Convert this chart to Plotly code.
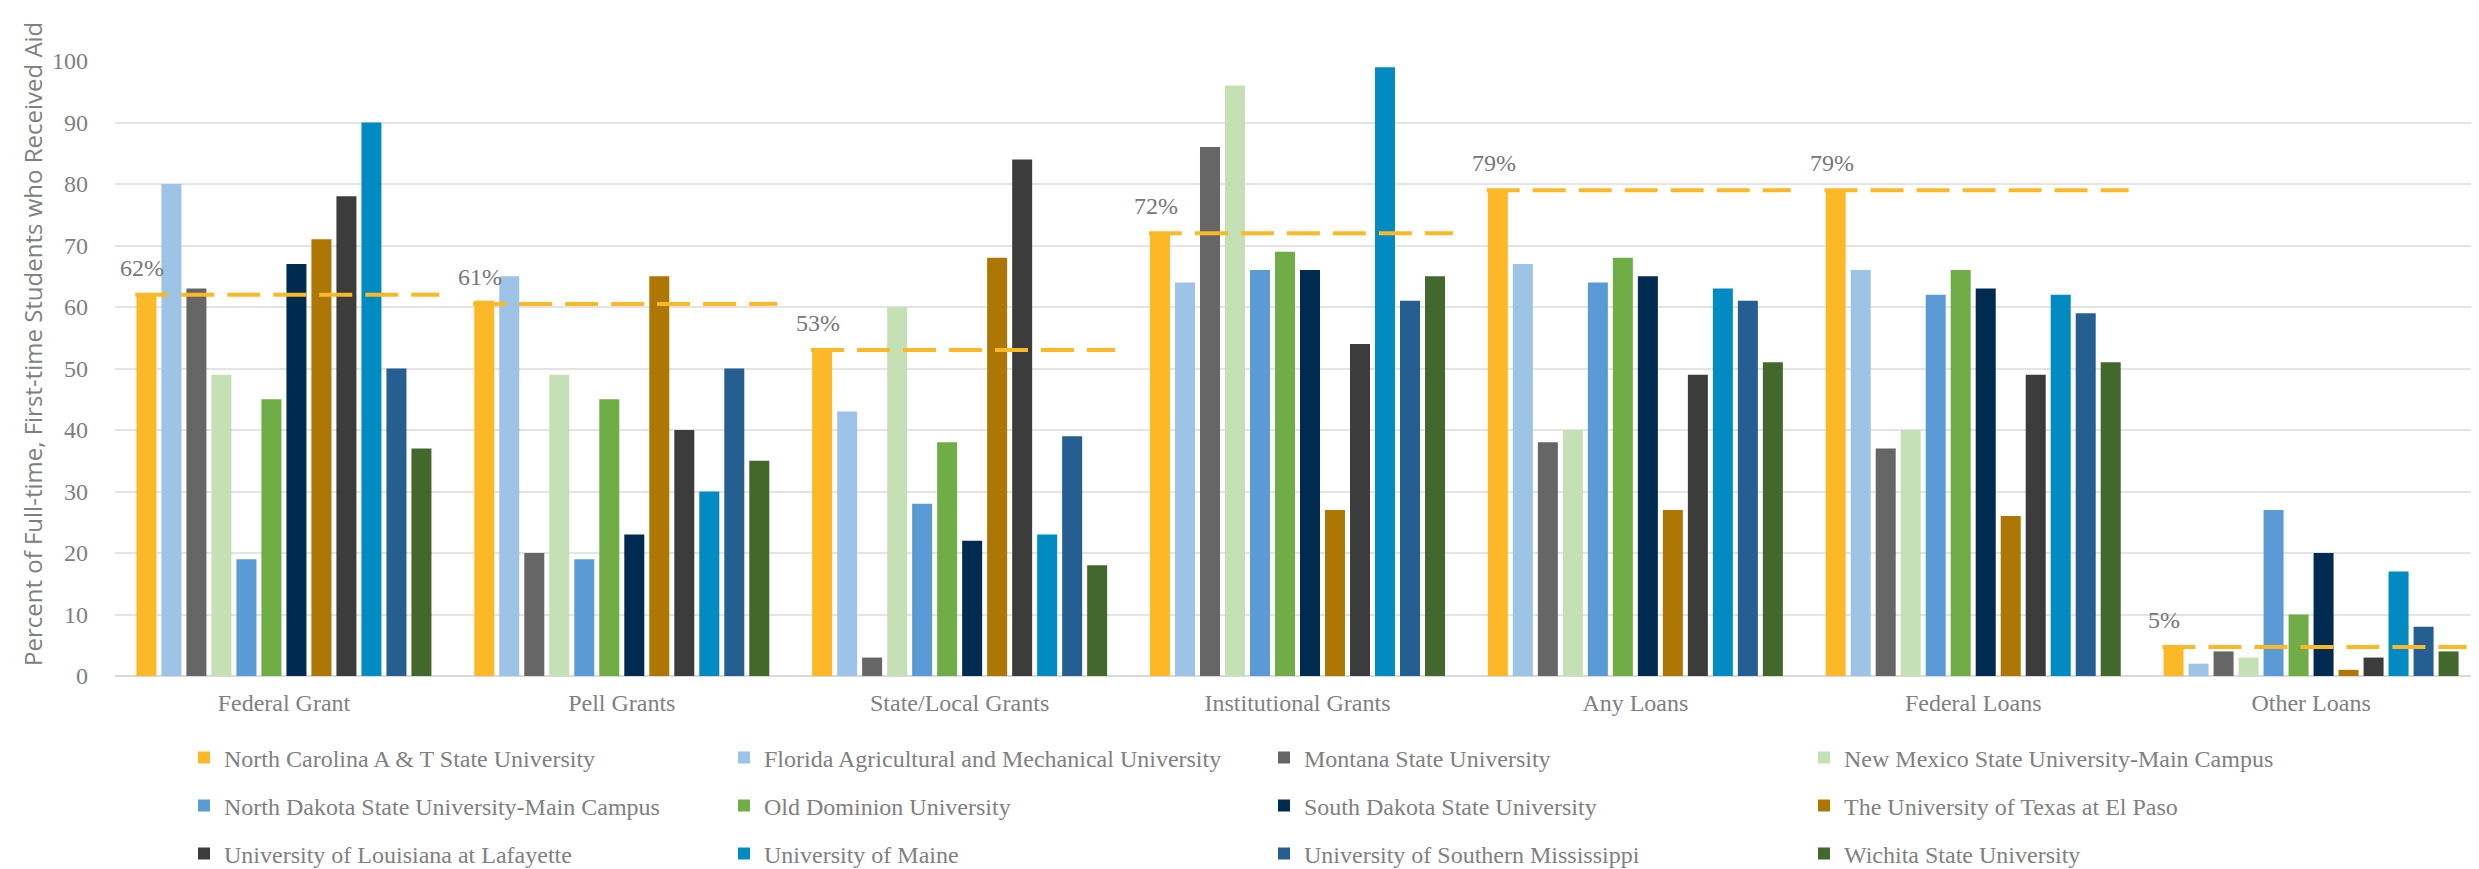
import plotly.graph_objects as go

categories = ["Federal Grant", "Pell Grants", "State/Local Grants", "Institutional Grants",
              "Any Loans", "Federal Loans", "Other Loans"]

universities = [
    "North Carolina A & T State University",
    "Florida Agricultural and Mechanical University",
    "Montana State University",
    "New Mexico State University-Main Campus",
    "North Dakota State University-Main Campus",
    "Old Dominion University",
    "South Dakota State University",
    "The University of Texas at El Paso",
    "University of Louisiana at Lafayette",
    "University of Maine",
    "University of Southern Mississippi",
    "Wichita State University",
]

nc_at = [62, 61, 53, 72, 79, 79, 5]
florida_am = [80, 65, 43, 64, 67, 66, 2]
montana = [63, 20, 3, 86, 38, 37, 4]
new_mexico = [49, 49, 60, 96, 40, 40, 3]
north_dakota = [19, 19, 28, 66, 64, 62, 27]
old_dominion = [45, 45, 38, 69, 68, 66, 10]
south_dakota = [67, 23, 22, 66, 65, 63, 20]
utep = [71, 65, 68, 27, 27, 26, 1]
louisiana_laf = [78, 40, 84, 54, 49, 49, 3]
maine = [90, 30, 23, 99, 63, 62, 17]
southern_miss = [50, 50, 39, 61, 61, 59, 8]
wichita = [37, 35, 18, 65, 51, 51, 4]

series_values = [nc_at, florida_am, montana, new_mexico, north_dakota, old_dominion,
                 south_dakota, utep, louisiana_laf, maine, southern_miss, wichita]

colors = ["#FDB827", "#9DC3E6", "#666666", "#C5E0B4", "#5B9BD5", "#70AD47",
          "#002B51", "#AE7602", "#3C3C3C", "#008BC3", "#255E91", "#43682B"]

# reference (dashed) line for North Carolina A & T
reference_values = [62, 60.5, 53, 72, 79, 79, 4.7]
reference_labels = ["62%", "61%", "53%", "72%", "79%", "79%", "5%"]

y_ticks = [0, 10, 20, 30, 40, 50, 60, 70, 80, 90, 100]

SERIF = "Liberation Serif"
GRAY = "#808080"

fig = go.Figure()

legend_names = ["legend", "legend2", "legend3"]
for i, (name, vals, col) in enumerate(zip(universities, series_values, colors)):
    fig.add_trace(go.Bar(
        x=categories, y=vals, name=name, marker=dict(color=col, line=dict(width=0)),
        legend=legend_names[i // 4],
    ))

# dashed reference lines on an overlaid numeric axis
lx, ly = [], []
for i, v in enumerate(reference_values):
    lx += [i - 0.44, i + 0.46, None]
    ly += [v, v, None]
fig.add_trace(go.Scatter(
    x=lx, y=ly, xaxis="x2", yaxis="y", mode="lines",
    line=dict(color="#FDB827", width=4, dash="33px,13px"),
    showlegend=False, hoverinfo="skip",
))

label_annotations = [
    dict(text=lbl, xref="x2", yref="y", x=i - 0.49, y=v, xanchor="left", yanchor="bottom",
         yshift=12, showarrow=False, font=dict(family=SERIF, size=24, color="#777777"))
    for i, (v, lbl) in enumerate(zip(reference_values, reference_labels))
]

L, R, T, B = 107, 7, 53, 201
W, H = 2479, 869
pw, ph = W - L - R, H - T - B

def row_y(yc):
    return (H - B - yc) / ph

legend_common = dict(
    orientation="h", xanchor="left", yanchor="middle", x=(176 - L) / pw,
    font=dict(family=SERIF, size=24, color=GRAY),
    entrywidth=495, entrywidthmode="pixels", bgcolor="rgba(0,0,0,0)",
    itemclick=False, itemdoubleclick=False,
)

fig.update_layout(
    width=W, height=H,
    margin=dict(l=L, r=R, t=T, b=B, autoexpand=False),
    paper_bgcolor="white", plot_bgcolor="white",
    barmode="group", bargap=0.112, bargroupgap=0.2,
    showlegend=True,
    legend=dict(legend_common, y=row_y(750)),
    legend2=dict(legend_common, y=row_y(798)),
    legend3=dict(legend_common, y=row_y(846)),
    xaxis=dict(
        type="category", categoryorder="array", categoryarray=categories,
        range=[-0.5, 6.5], showgrid=False, showline=False, zeroline=False,
        ticks="", ticklabelstandoff=10,
        tickfont=dict(family=SERIF, size=24, color=GRAY),
    ),
    xaxis2=dict(overlaying="x", range=[-0.5, 6.5], visible=False, fixedrange=True),
    yaxis=dict(
        range=[0, 100], tickvals=y_ticks, showgrid=True, gridcolor="#E4E4E4", gridwidth=2,
        zeroline=True, zerolinecolor="#D9D9D9", zerolinewidth=2, showline=False,
        ticks="", ticklabelstandoff=26,
        tickfont=dict(family=SERIF, size=24, color=GRAY),
    ),
    annotations=[dict(
        text="Percent of Full-time, First-time Students who Received Aid",
        xref="paper", yref="paper", x=(24 - L) / pw, y=row_y(336),
        xanchor="center", yanchor="middle", textangle=-90, showarrow=False,
        font=dict(family="Open Sans", size=24, color=GRAY),
    )] + label_annotations,
)

fig.write_html("out.html")
